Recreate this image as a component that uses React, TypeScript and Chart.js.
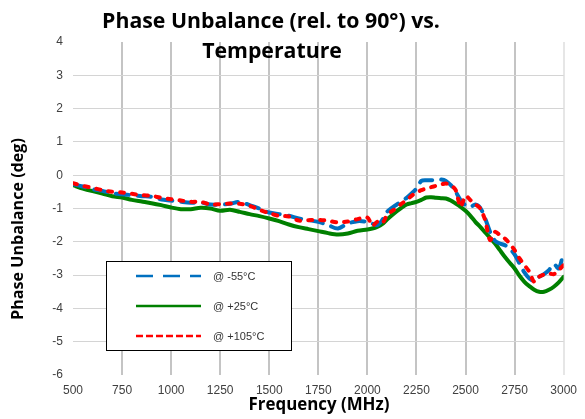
import React, { useEffect, useRef } from "react";
import { Chart, registerables } from "chart.js";

Chart.register(...registerables);

// Frequencies (MHz)
const freqs = [
  500, 550, 600, 650, 700, 750, 800, 850, 900, 950,
  1000, 1050, 1100, 1150, 1200, 1250, 1300, 1350, 1400, 1450,
  1500, 1550, 1600, 1650, 1700, 1750, 1800, 1850, 1900, 1950,
  2000, 2025, 2050, 2075, 2100, 2125, 2150, 2175, 2200, 2225,
  2250, 2275, 2300, 2325, 2350, 2375, 2400, 2425, 2450, 2475,
  2500, 2525, 2550, 2575, 2600, 2625, 2650, 2675, 2700, 2725,
  2750, 2775, 2800, 2825, 2850, 2875, 2900, 2925, 2950, 2975, 3000,
];

// @ -55°C
const minus55 = [
  -0.27, -0.34, -0.42, -0.47, -0.54, -0.57, -0.6, -0.63, -0.65, -0.73,
  -0.76, -0.8, -0.83, -0.82, -0.88, -0.88, -0.86, -0.8, -0.9, -1.0,
  -1.12, -1.17, -1.22, -1.3, -1.35, -1.4, -1.5, -1.6, -1.45, -1.38,
  -1.4, -1.45, -1.5, -1.35, -1.1, -0.98, -0.88, -0.78, -0.68, -0.55,
  -0.4, -0.17, -0.15, -0.15, -0.14, -0.13, -0.17, -0.3, -0.5, -0.75,
  -0.9, -0.95, -0.88, -0.98, -1.3, -1.7, -1.97, -2.05, -2.1, -2.2,
  -2.38, -2.65, -2.92, -3.1, -3.17, -3.05, -2.97, -2.85, -2.67, -2.8, -2.3,
];

// @ +25°C
const plus25 = [
  -0.3, -0.4, -0.48, -0.55, -0.63, -0.67, -0.74, -0.79, -0.84, -0.9,
  -0.97, -1.02, -1.02, -0.98, -1.0, -1.07, -1.04, -1.1, -1.17, -1.23,
  -1.3, -1.38, -1.48, -1.56, -1.62, -1.68, -1.74, -1.78, -1.75, -1.67,
  -1.63, -1.6, -1.55, -1.47, -1.33, -1.2, -1.08, -0.97, -0.88, -0.84,
  -0.8, -0.74, -0.67, -0.66, -0.68, -0.69, -0.7, -0.76, -0.85, -0.95,
  -1.07, -1.22, -1.4, -1.55, -1.72, -1.88, -2.05, -2.25, -2.45, -2.63,
  -2.8, -3.02, -3.2, -3.33, -3.44, -3.5, -3.5, -3.44, -3.35, -3.22, -3.05,
];

// @ +105°C
const plus105 = [
  -0.24, -0.32, -0.38, -0.45, -0.5, -0.52, -0.56, -0.6, -0.62, -0.68,
  -0.72, -0.76, -0.8, -0.8, -0.88, -0.87, -0.85, -0.86, -0.92, -1.04,
  -1.14, -1.22, -1.24, -1.36, -1.35, -1.34, -1.37, -1.42, -1.39, -1.32,
  -1.27, -1.52, -1.4, -1.45, -1.2, -1.08, -0.98, -0.85, -0.75, -0.62,
  -0.52, -0.45, -0.4, -0.36, -0.32, -0.28, -0.25, -0.3, -0.45, -0.95,
  -0.62, -0.75, -0.87, -1.0, -1.35, -1.95, -1.7, -1.8, -1.9, -2.05,
  -2.25, -2.5, -2.7, -2.9, -3.2, -3.05, -2.98, -2.95, -2.97, -2.85, -2.7,
];

const xTickValues = [500, 750, 1000, 1250, 1500, 1750, 2000, 2250, 2500, 2750, 3000];
const yTickValues = [4, 3, 2, 1, 0, -1, -2, -3, -4, -5, -6];

const seriesLabels = ["@ -55°C", "@ +25°C", "@ +105°C"];
const titleLines = ["Phase Unbalance (rel. to 90°) vs.", "Temperature"];
const xTitle = "Frequency (MHz)";
const yTitle = "Phase Unbalance (deg)";

const toPoints = (vals: number[]) => freqs.map((f, i) => ({ x: f, y: vals[i] }));

const legendDashes: number[][] = [[17, 10], [], [7, 3]];
const BOLD = "'Open Sans', 'Noto Sans', sans-serif";

function fitSize(ctx: CanvasRenderingContext2D, text: string, targetW: number) {
  ctx.font = `bold 20px ${BOLD}`;
  const w = ctx.measureText(text).width;
  return (20 * targetW) / w;
}

const textPlugin = {
  id: "customText",
  afterDraw(chart: any) {
    const ctx: CanvasRenderingContext2D = chart.ctx;
    ctx.save();
    ctx.fillStyle = "#000";
    ctx.textAlign = "center";
    ctx.textBaseline = "alphabetic";
    // title
    const ts = fitSize(ctx, titleLines[0], 338);
    ctx.font = `bold ${ts}px ${BOLD}`;
    ctx.fillText(titleLines[0], 271, 28);
    ctx.fillText(titleLines[1], 272, 58);
    // x title
    const xs = fitSize(ctx, xTitle, 141);
    ctx.font = `bold ${xs}px ${BOLD}`;
    ctx.fillText(xTitle, 319, 410);
    // y title
    const ys = fitSize(ctx, yTitle, 182);
    ctx.font = `bold ${ys}px ${BOLD}`;
    ctx.save();
    ctx.translate(23, 229);
    ctx.rotate(-Math.PI / 2);
    ctx.fillText(yTitle, 0, 0);
    ctx.restore();

    // legend
    const bx = 106, by = 261, bw = 185, bh = 89;
    ctx.fillStyle = "#fff";
    ctx.fillRect(bx, by, bw, bh);
    ctx.strokeStyle = "#000";
    ctx.lineWidth = 1;
    ctx.strokeRect(bx + 0.5, by + 0.5, bw, bh);
    const rows = [276, 306, 336];
    [0, 1, 2].forEach((di, i) => {
      const ds = chart.data.datasets[di];
      ctx.beginPath();
      ctx.strokeStyle = ds.borderColor;
      ctx.lineWidth = 2.5;
      ctx.setLineDash(legendDashes[i]);
      ctx.moveTo(136, rows[i]);
      ctx.lineTo(201, rows[i]);
      ctx.stroke();
      ctx.setLineDash([]);
      ctx.fillStyle = "#333";
      ctx.font = "11px 'Liberation Sans', Arial";
      ctx.textAlign = "left";
      ctx.textBaseline = "middle";
      ctx.fillText(ds.label, 213, rows[i] + 1);
    });
    ctx.restore();
  },
};

export default function App() {
  const ref = useRef<HTMLCanvasElement | null>(null);

  useEffect(() => {
    document.body.style.margin = "0";
    if (!ref.current) return;
    const chart = new Chart(ref.current, {
      type: "line",
      data: {
        datasets: [
          {
            label: seriesLabels[0],
            data: toPoints(minus55),
            borderColor: "#0070C0",
            borderWidth: 4,
            borderDash: [13, 9],
            borderCapStyle: "round",
            pointRadius: 0,
            tension: 0.3,
            order: 1,
          },
          {
            label: seriesLabels[1],
            data: toPoints(plus25),
            borderColor: "#008000",
            borderWidth: 4,
            borderCapStyle: "round",
            pointRadius: 0,
            tension: 0.3,
            order: 2,
          },
          {
            label: seriesLabels[2],
            data: toPoints(plus105),
            borderColor: "#FF0000",
            borderWidth: 4,
            borderDash: [4, 8],
            borderCapStyle: "round",
            pointRadius: 0,
            tension: 0.3,
            order: 0,
          },
        ],
      },
      options: {
        animation: false,
        responsive: false,
        layout: { padding: { top: 42, right: 19, left: 0, bottom: 0 } },
        plugins: { legend: { display: false }, tooltip: { enabled: false }, title: { display: false } },
        scales: {
          x: {
            type: "linear",
            min: 500,
            max: 3000,
            afterBuildTicks: (scale: any) => {
              scale.ticks = xTickValues.map((v) => ({ value: v }));
            },
            afterFit: (scale: any) => {
              scale.height = 44;
            },
            border: { display: false },
            grid: {
              drawTicks: false,
              lineWidth: 2,
              color: (c: any) =>
                c.index === 0 ? "rgba(0,0,0,0)" : c.index === xTickValues.length - 1 ? "#e6e6e6" : "#c4c4c4",
            },
            ticks: {
              padding: 8,
              color: "#404040",
              font: { family: "'Liberation Sans', Arial", size: 12 },
              maxRotation: 0,
              callback: (v: any) => String(v),
            },
          },
          y: {
            type: "linear",
            min: -6,
            max: 4,
            afterBuildTicks: (scale: any) => {
              scale.ticks = yTickValues.slice().reverse().map((v) => ({ value: v }));
            },
            afterFit: (scale: any) => {
              scale.width = 73;
            },
            border: { display: false },
            grid: {
              drawTicks: false,
              lineWidth: 1,
              color: (c: any) =>
                c.tick && (c.tick.value === 4 || c.tick.value === -6) ? "rgba(0,0,0,0)" : "#d4d4d4",
            },
            ticks: {
              padding: 10,
              color: "#404040",
              font: { family: "'Liberation Sans', Arial", size: 12 },
              callback: (v: any) => String(v),
            },
          },
        },
      },
      plugins: [textPlugin],
    });
    return () => chart.destroy();
  }, []);

  return (
    <div style={{ position: "absolute", left: 0, top: 0, width: 585, height: 419 }}>
      <canvas ref={ref} width={585} height={419} style={{ display: "block" }} />
    </div>
  );
}
